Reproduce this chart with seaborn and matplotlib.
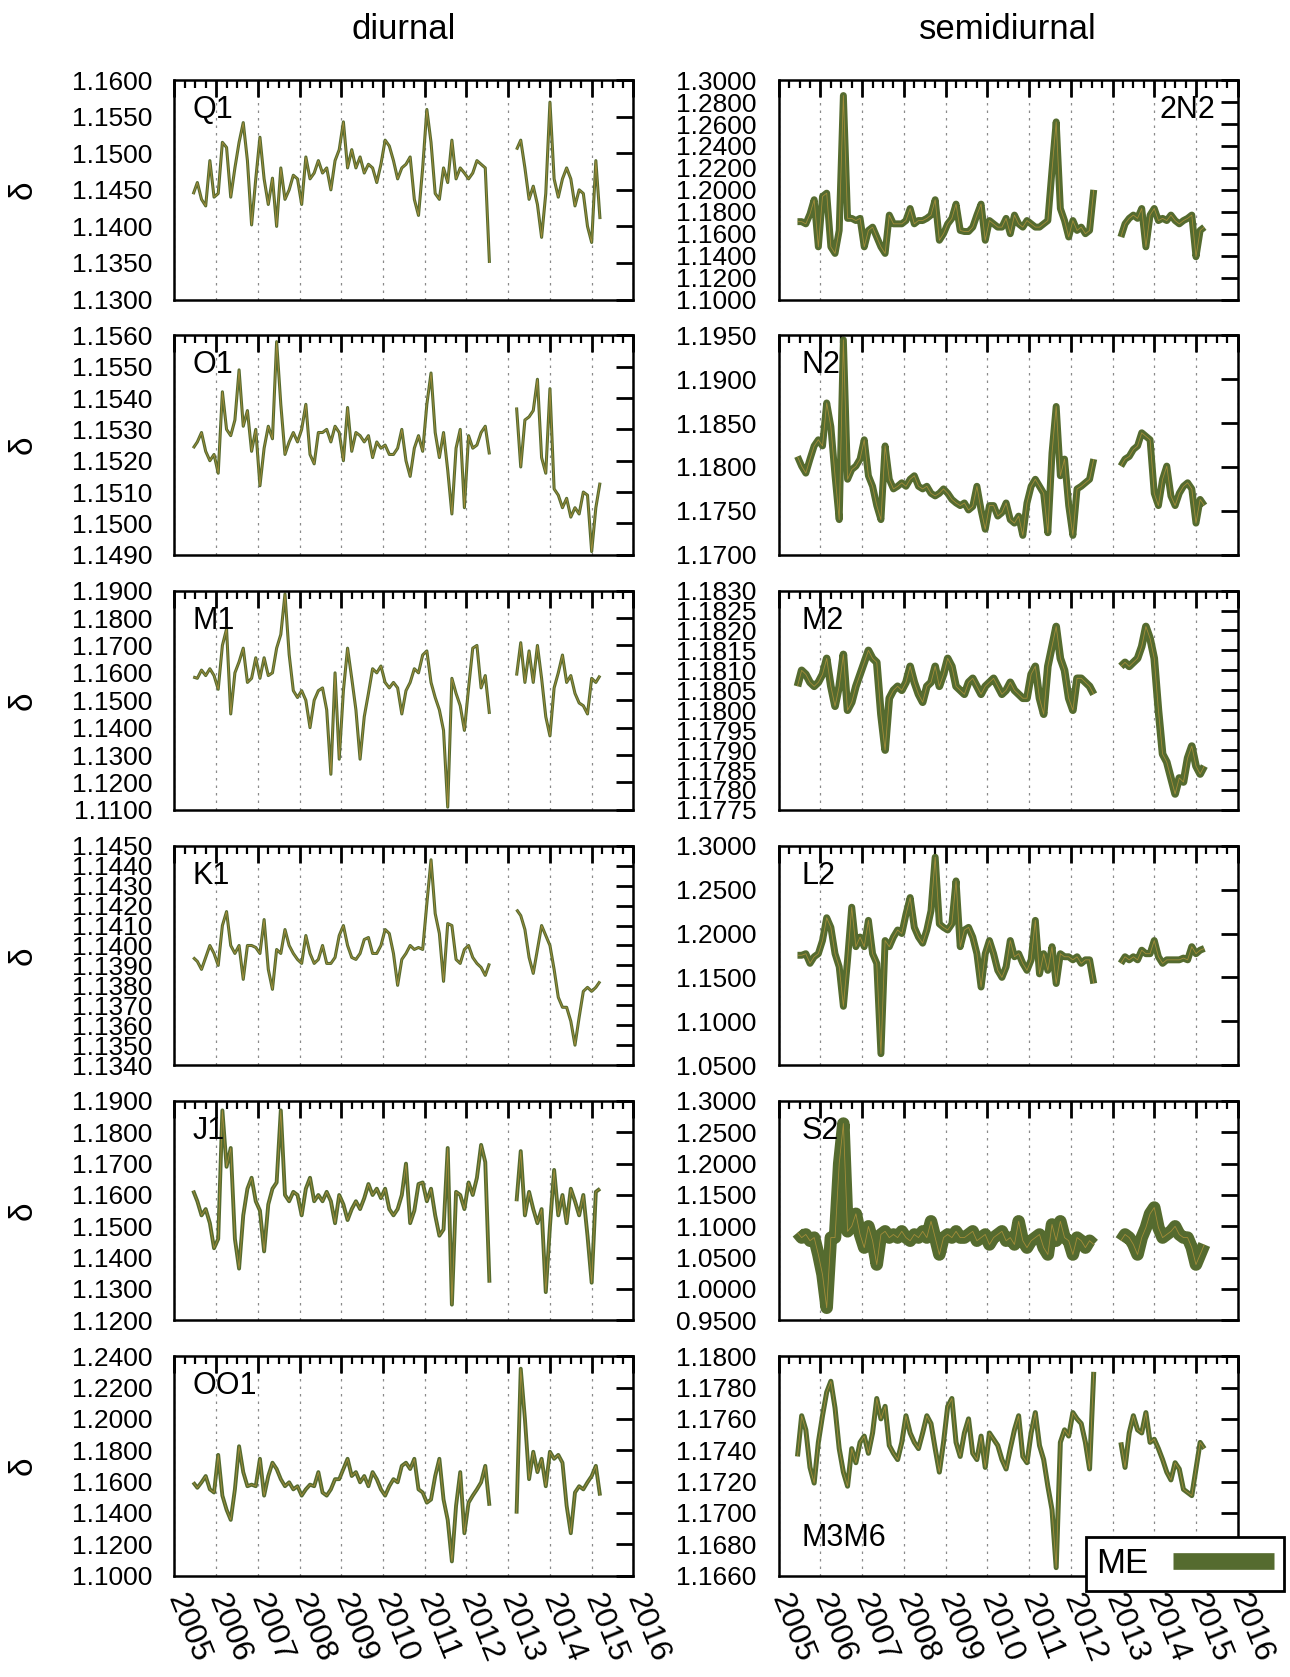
import numpy as np
import pandas as pd
import matplotlib
matplotlib.use("Agg")
import matplotlib.pyplot as plt
import seaborn as sns
from matplotlib.ticker import MultipleLocator, FixedLocator, FormatStrFormatter
from matplotlib.lines import Line2D

# ---------------------------------------------------------------- data
# sampling epochs (decimal years) of the two observation periods
T_A = np.round(np.arange(2005.45, 2012.551, 0.1), 2)
T_B = np.round(np.arange(2013.2, 2015.201, 0.1), 2)

# diurnal constituents -------------------------------------------------
q1_a = [1.1444, 1.1460, 1.1437, 1.1428, 1.1490, 1.1440,
        1.1445, 1.1515, 1.1508, 1.1440, 1.1480, 1.1515, 1.1542, 1.1490, 1.1402, 1.1465,
        1.1522, 1.1465, 1.1430, 1.1466, 1.1400, 1.1480, 1.1437, 1.1450, 1.1470, 1.1465,
        1.1430, 1.1495, 1.1465, 1.1473, 1.1490, 1.1473, 1.1480, 1.1450, 1.1490, 1.1505,
        1.1543, 1.1480, 1.1505, 1.1480, 1.1495, 1.1473, 1.1485, 1.1480, 1.1460, 1.1485,
        1.1518, 1.1510, 1.1490, 1.1465, 1.1480, 1.1485, 1.1495, 1.1437, 1.1415, 1.1480,
        1.1560, 1.1515, 1.1445, 1.1437, 1.1480, 1.1460, 1.1518, 1.1465, 1.1480, 1.1473,
        1.1465, 1.1473, 1.1490, 1.1485, 1.1480, 1.1350]
q1_b = [1.1505, 1.1518, 1.1480, 1.1437, 1.1455, 1.1430, 1.1385, 1.1445, 1.1570, 1.1465,
        1.1440, 1.1465, 1.1480, 1.1465, 1.1428, 1.1450, 1.1445, 1.1400, 1.1378, 1.1490, 1.1410]

o1_a = [1.1524, 1.1526, 1.1529, 1.1523, 1.1520, 1.1522,
        1.1516, 1.1542, 1.1530, 1.1528, 1.1533, 1.1549, 1.1531, 1.1536, 1.1523, 1.1530,
        1.1512, 1.1524, 1.1531, 1.1527, 1.1558, 1.1538, 1.1522, 1.1526, 1.1529, 1.1526,
        1.1530, 1.1538, 1.1522, 1.1519, 1.1529, 1.1529, 1.1530, 1.1526, 1.1531, 1.1529,
        1.1520, 1.1537, 1.1523, 1.1529, 1.1528, 1.1526, 1.1528, 1.1521, 1.1526, 1.1524,
        1.1525, 1.1522, 1.1522, 1.1524, 1.1530, 1.1520, 1.1515, 1.1524, 1.1528, 1.1523,
        1.1538, 1.1548, 1.1529, 1.1521, 1.1529, 1.1517, 1.1503, 1.1524, 1.1530, 1.1505,
        1.1528, 1.1524, 1.1525, 1.1529, 1.1531, 1.1522]
o1_b = [1.1537, 1.1518, 1.1533, 1.1534, 1.1536, 1.1546, 1.1521, 1.1516, 1.1543, 1.1511,
        1.1509, 1.1505, 1.1508, 1.1502, 1.1505, 1.1503, 1.1510, 1.1509, 1.1491, 1.1505, 1.1513]

m1_a = [1.1585, 1.1580, 1.1610, 1.1590, 1.1615, 1.1590,
        1.1540, 1.1700, 1.1760, 1.1450, 1.1600, 1.1640, 1.1690, 1.1565, 1.1580, 1.1655,
        1.1580, 1.1655, 1.1590, 1.1600, 1.1690, 1.1740, 1.1888, 1.1667, 1.1535, 1.1510,
        1.1535, 1.1500, 1.1400, 1.1500, 1.1535, 1.1545, 1.1465, 1.1230, 1.1600, 1.1285,
        1.1535, 1.1690, 1.1580, 1.1465, 1.1285, 1.1440, 1.1525, 1.1615, 1.1600, 1.1625,
        1.1565, 1.1545, 1.1565, 1.1545, 1.1450, 1.1535, 1.1565, 1.1615, 1.1600, 1.1665,
        1.1680, 1.1565, 1.1510, 1.1465, 1.1390, 1.1110, 1.1580, 1.1525, 1.1480, 1.1390,
        1.1545, 1.1690, 1.1700, 1.1545, 1.1590, 1.1450]
m1_b = [1.1590, 1.1710, 1.1565, 1.1680, 1.1565, 1.1700, 1.1580, 1.1440, 1.1370, 1.1545,
        1.1600, 1.1665, 1.1565, 1.1590, 1.1525, 1.1490, 1.1480, 1.1450, 1.1580, 1.1565, 1.1590]

k1_a = [1.1394, 1.1392, 1.1388, 1.1394, 1.1400, 1.1396,
        1.1390, 1.1410, 1.1417, 1.1400, 1.1396, 1.1400, 1.1383, 1.1400, 1.1400, 1.1399,
        1.1396, 1.1413, 1.1388, 1.1378, 1.1398, 1.1396, 1.1408, 1.1400, 1.1396, 1.1393,
        1.1391, 1.1405, 1.1396, 1.1391, 1.1393, 1.1400, 1.1391, 1.1391, 1.1394, 1.1405,
        1.1410, 1.1400, 1.1394, 1.1393, 1.1396, 1.1403, 1.1404, 1.1396, 1.1396, 1.1400,
        1.1408, 1.1406, 1.1396, 1.1380, 1.1393, 1.1396, 1.1400, 1.1398, 1.1399, 1.1398,
        1.1421, 1.1443, 1.1416, 1.1406, 1.1382, 1.1411, 1.1410, 1.1393, 1.1391, 1.1398,
        1.1400, 1.1394, 1.1391, 1.1389, 1.1385, 1.1391]
k1_b = [1.1418, 1.1415, 1.1408, 1.1394, 1.1386, 1.1398, 1.1410, 1.1405, 1.1400, 1.1388,
        1.1374, 1.1369, 1.1369, 1.1362, 1.1350, 1.1364, 1.1377, 1.1379, 1.1377, 1.1379, 1.1382]

j1_a = [1.1614, 1.1580, 1.1535, 1.1555, 1.1510, 1.1430,
        1.1460, 1.1870, 1.1690, 1.1750, 1.1460, 1.1365, 1.1535, 1.1620, 1.1655, 1.1580,
        1.1550, 1.1420, 1.1570, 1.1620, 1.1640, 1.1870, 1.1600, 1.1580, 1.1610, 1.1600,
        1.1535, 1.1620, 1.1655, 1.1580, 1.1600, 1.1580, 1.1610, 1.1580, 1.1510, 1.1600,
        1.1570, 1.1520, 1.1555, 1.1580, 1.1555, 1.1590, 1.1635, 1.1600, 1.1620, 1.1590,
        1.1620, 1.1555, 1.1535, 1.1555, 1.1600, 1.1700, 1.1510, 1.1550, 1.1635, 1.1640,
        1.1580, 1.1620, 1.1535, 1.1470, 1.1490, 1.1750, 1.1250, 1.1610, 1.1600, 1.1555,
        1.1640, 1.1600, 1.1655, 1.1760, 1.1705, 1.1320]
j1_b = [1.1580, 1.1740, 1.1535, 1.1610, 1.1555, 1.1510, 1.1555, 1.1290, 1.1500, 1.1680,
        1.1535, 1.1600, 1.1510, 1.1620, 1.1580, 1.1535, 1.1600, 1.1470, 1.1320, 1.1610, 1.1620]

oo1_a = [1.1595, 1.1560, 1.1595, 1.1635, 1.1550, 1.1530,
         1.1770, 1.1510, 1.1420, 1.1355, 1.1550, 1.1825, 1.1660, 1.1570, 1.1580, 1.1570,
         1.1745, 1.1510, 1.1635, 1.1720, 1.1680, 1.1615, 1.1570, 1.1595, 1.1550, 1.1570,
         1.1510, 1.1550, 1.1580, 1.1570, 1.1660, 1.1530, 1.1510, 1.1550, 1.1615, 1.1615,
         1.1680, 1.1745, 1.1635, 1.1660, 1.1595, 1.1635, 1.1570, 1.1660, 1.1615, 1.1550,
         1.1510, 1.1570, 1.1615, 1.1595, 1.1700, 1.1720, 1.1680, 1.1745, 1.1550, 1.1530,
         1.1465, 1.1485, 1.1635, 1.1745, 1.1485, 1.1355, 1.1090, 1.1445, 1.1660, 1.1270,
         1.1465, 1.1510, 1.1550, 1.1595, 1.1700, 1.1445]
oo1_b = [1.1395, 1.2320, 1.2000, 1.1615, 1.1790, 1.1660, 1.1745, 1.1570, 1.1790, 1.1745,
         1.1770, 1.1720, 1.1445, 1.1270, 1.1530, 1.1570, 1.1550, 1.1595, 1.1635, 1.1700, 1.1510]

# semidiurnal constituents ---------------------------------------------
n2x2_a = [1.171, 1.171, 1.169, 1.178, 1.191, 1.148,
          1.194, 1.197, 1.148, 1.142, 1.163, 1.286, 1.174, 1.174, 1.172, 1.174,
          1.148, 1.163, 1.166, 1.157, 1.148, 1.142, 1.177, 1.169, 1.169, 1.169,
          1.172, 1.183, 1.169, 1.172, 1.172, 1.174, 1.177, 1.191, 1.154, 1.160,
          1.169, 1.174, 1.187, 1.163, 1.162, 1.162, 1.166, 1.177, 1.187, 1.154,
          1.172, 1.169, 1.166, 1.166, 1.174, 1.160, 1.177, 1.169, 1.166, 1.172,
          1.169, 1.166, 1.166, 1.169, 1.172, 1.218, 1.262, 1.183, 1.172, 1.157,
          1.172, 1.163, 1.166, 1.160, 1.163, 1.200]
n2x2_b = [1.157, 1.169, 1.174, 1.177, 1.174, 1.183, 1.148, 1.177, 1.183, 1.172,
          1.174, 1.172, 1.177, 1.172, 1.169, 1.172, 1.174, 1.177, 1.139, 1.163, 1.166]

n2_a = [1.1812, 1.1801, 1.1793, 1.1809, 1.1824, 1.1831,
        1.1824, 1.1873, 1.1846, 1.1790, 1.1740, 1.1945, 1.1786, 1.1797, 1.1801, 1.1809,
        1.1831, 1.1790, 1.1778, 1.1756, 1.1740, 1.1824, 1.1786, 1.1775, 1.1778, 1.1782,
        1.1778, 1.1786, 1.1790, 1.1778, 1.1775, 1.1778, 1.1770, 1.1767, 1.1770, 1.1775,
        1.1770, 1.1763, 1.1759, 1.1756, 1.1759, 1.1751, 1.1755, 1.1778, 1.1751, 1.1729,
        1.1756, 1.1756, 1.1744, 1.1748, 1.1759, 1.1740, 1.1736, 1.1744, 1.1722, 1.1759,
        1.1778, 1.1786, 1.1778, 1.1770, 1.1725, 1.1816, 1.1869, 1.1790, 1.1809, 1.1756,
        1.1722, 1.1775, 1.1778, 1.1782, 1.1786, 1.1809]
n2_b = [1.1801, 1.1809, 1.1812, 1.1820, 1.1824, 1.1839, 1.1835, 1.1831, 1.1770, 1.1756,
        1.1786, 1.1801, 1.1767, 1.1756, 1.1770, 1.1778, 1.1782, 1.1775, 1.1736, 1.1763, 1.1756]

m2_a = [1.1806, 1.1810, 1.1809, 1.1807, 1.1806, 1.1807,
        1.1809, 1.1813, 1.1806, 1.1801, 1.1806, 1.1814, 1.1800, 1.1802, 1.1806, 1.1809,
        1.1812, 1.1815, 1.1813, 1.1812, 1.1799, 1.1790, 1.1803, 1.1805, 1.1806, 1.1805,
        1.1807, 1.1811, 1.1807, 1.1804, 1.1802, 1.1806, 1.1807, 1.1811, 1.1806, 1.1809,
        1.1813, 1.1811, 1.1806, 1.1805, 1.1804, 1.1807, 1.1808, 1.1806, 1.1804, 1.1806,
        1.1807, 1.1808, 1.1806, 1.1804, 1.1805, 1.1807, 1.1805, 1.1804, 1.1803, 1.1803,
        1.1809, 1.1811, 1.1803, 1.1799, 1.1811, 1.1816, 1.1821, 1.1813, 1.1810, 1.1803,
        1.1800, 1.1808, 1.1808, 1.1807, 1.1806, 1.1804]
m2_b = [1.1811, 1.1812, 1.1811, 1.1812, 1.1813, 1.1816, 1.1821, 1.1818, 1.1813, 1.1800,
        1.1789, 1.1787, 1.1783, 1.1779, 1.1783, 1.1782, 1.1788, 1.1791, 1.1786, 1.1784, 1.1786]

l2_a = [1.1752, 1.1752, 1.1770, 1.1660, 1.1735, 1.1770,
        1.1920, 1.2180, 1.2070, 1.1770, 1.1620, 1.1170, 1.1700, 1.2300, 1.1850, 1.1960,
        1.1850, 1.2150, 1.1770, 1.1660, 1.0630, 1.1920, 1.1850, 1.1960, 1.2040, 1.2000,
        1.2220, 1.2410, 1.2070, 1.1960, 1.1890, 1.2040, 1.2260, 1.2870, 1.2110, 1.2070,
        1.2040, 1.2110, 1.2600, 1.1850, 1.2040, 1.2070, 1.1960, 1.1770, 1.1390, 1.1770,
        1.1920, 1.1770, 1.1580, 1.1500, 1.1620, 1.1920, 1.1735, 1.1770, 1.1660, 1.1580,
        1.1700, 1.2150, 1.1540, 1.1770, 1.1580, 1.1850, 1.1430, 1.1770, 1.1735, 1.1735,
        1.1700, 1.1735, 1.1660, 1.1700, 1.1700, 1.1430]
l2_b = [1.1660, 1.1735, 1.1700, 1.1735, 1.1700, 1.1810, 1.1770, 1.1770, 1.1920, 1.1735,
        1.1660, 1.1700, 1.1700, 1.1700, 1.1700, 1.1720, 1.1700, 1.1850, 1.1770, 1.1810, 1.1830]

s2_a = [1.090, 1.082, 1.087, 1.077, 1.082, 1.055,
        1.023, 0.970, 1.082, 1.082, 1.200, 1.264, 1.092, 1.100, 1.120, 1.087,
        1.066, 1.100, 1.077, 1.039, 1.087, 1.092, 1.082, 1.087, 1.082, 1.092,
        1.082, 1.077, 1.087, 1.082, 1.092, 1.082, 1.108, 1.082, 1.055, 1.082,
        1.087, 1.082, 1.092, 1.082, 1.082, 1.087, 1.092, 1.077, 1.082, 1.087,
        1.071, 1.082, 1.087, 1.092, 1.077, 1.082, 1.071, 1.108, 1.077, 1.066,
        1.077, 1.082, 1.087, 1.066, 1.055, 1.103, 1.077, 1.108, 1.082, 1.077,
        1.055, 1.082, 1.077, 1.066, 1.077, 1.071]
s2_b = [1.077, 1.087, 1.082, 1.071, 1.055, 1.082, 1.098, 1.120, 1.130, 1.098,
        1.082, 1.087, 1.092, 1.100, 1.087, 1.082, 1.082, 1.066, 1.039, 1.055, 1.071]

m3m6_a = [1.1736, 1.1762, 1.1753, 1.1729, 1.1719, 1.1745,
          1.1762, 1.1777, 1.1784, 1.1767, 1.1741, 1.1726, 1.1717, 1.1741, 1.1732, 1.1745,
          1.1749, 1.1738, 1.1751, 1.1773, 1.1760, 1.1768, 1.1743, 1.1738, 1.1734, 1.1745,
          1.1762, 1.1751, 1.1745, 1.1741, 1.1751, 1.1762, 1.1757, 1.1741, 1.1726, 1.1745,
          1.1768, 1.1773, 1.1745, 1.1736, 1.1751, 1.1760, 1.1738, 1.1734, 1.1749, 1.1729,
          1.1751, 1.1747, 1.1743, 1.1734, 1.1728, 1.1741, 1.1753, 1.1762, 1.1736, 1.1732,
          1.1751, 1.1764, 1.1743, 1.1734, 1.1717, 1.1702, 1.1665, 1.1745, 1.1753, 1.1749,
          1.1764, 1.1760, 1.1757, 1.1745, 1.1728, 1.1790]
m3m6_b = [1.1745, 1.1729, 1.1751, 1.1762, 1.1753, 1.1751, 1.1764, 1.1745, 1.1747, 1.1741,
          1.1734, 1.1726, 1.1721, 1.1732, 1.1728, 1.1715, 1.1713, 1.1711, 1.1728, 1.1745, 1.1741]

# panel layout: name, series, y-range, y-step, column, row
PANELS = [
    ("Q1",   q1_a,   q1_b,   1.1300, 1.1600, 0.0050, 0, 0),
    ("O1",   o1_a,   o1_b,   1.1490, 1.1560, 0.0010, 0, 1),
    ("M1",   m1_a,   m1_b,   1.1100, 1.1900, 0.0100, 0, 2),
    ("K1",   k1_a,   k1_b,   1.1340, 1.1450, 0.0010, 0, 3),
    ("J1",   j1_a,   j1_b,   1.1200, 1.1900, 0.0100, 0, 4),
    ("OO1",  oo1_a,  oo1_b,  1.1000, 1.2400, 0.0200, 0, 5),
    ("2N2",  n2x2_a, n2x2_b, 1.1000, 1.3000, 0.0200, 1, 0),
    ("N2",   n2_a,   n2_b,   1.1700, 1.1950, 0.0050, 1, 1),
    ("M2",   m2_a,   m2_b,   1.1775, 1.1830, 0.0005, 1, 2),
    ("L2",   l2_a,   l2_b,   1.0500, 1.3000, 0.0500, 1, 3),
    ("S2",   s2_a,   s2_b,   0.9500, 1.3000, 0.0500, 1, 4),
    ("M3M6", m3m6_a, m3m6_b, 1.1660, 1.1800, 0.0020, 1, 5),
]
# drawn band width (points) for each constituent
BAND_LW = {"Q1": 2.2, "O1": 2.2, "M1": 2.2, "K1": 2.2, "J1": 2.8, "OO1": 2.8,
           "2N2": 5.0, "N2": 5.0, "M2": 5.5, "L2": 5.0, "S2": 9.0, "M3M6": 3.6}

frames = []
for name, a, b, *_ in PANELS:
    assert len(a) == len(T_A) and len(b) == len(T_B), name
    frames.append(pd.DataFrame({"constituent": name, "year": T_A, "delta": a, "segment": 0}))
    frames.append(pd.DataFrame({"constituent": name, "year": T_B, "delta": b, "segment": 1}))
df = pd.concat(frames, ignore_index=True)

# ---------------------------------------------------------------- style
sns.set_theme(style="white")
plt.rcParams["font.family"] = ["Liberation Sans", "DejaVu Sans"]
plt.rcParams.update({
    "axes.linewidth": 1.8,
    "axes.edgecolor": "black",
    "text.color": "black",
    "axes.labelcolor": "black",
    "xtick.color": "black",
    "ytick.color": "black",
    "lines.solid_capstyle": "butt",
    "lines.solid_joinstyle": "round",
})

GREEN = "#556b2f"
TAN = "#d9a441"

W, H = 1290, 1677
fig = plt.figure(figsize=(W / 100, H / 100), dpi=100)

COL_X = [174.4, 778.7]
AX_W = 459.0
ROW_TOP0, ROW_PITCH, AX_H = 80.2, 255.2, 219.3

years = np.arange(2005, 2017)
for name, a, b, ymin, ymax, ystep, col, row in PANELS:
    top = ROW_TOP0 + row * ROW_PITCH
    ax = fig.add_axes([COL_X[col] / W, 1 - (top + AX_H) / H, AX_W / W, AX_H / H])
    sub = df[df["constituent"] == name]
    sns.lineplot(data=sub, x="year", y="delta", units="segment", estimator=None,
                 sort=False, color=GREEN, linewidth=BAND_LW[name], ax=ax, legend=False,
                 zorder=3)
    sns.lineplot(data=sub, x="year", y="delta", units="segment", estimator=None,
                 sort=False, color=TAN, linewidth=0.6, alpha=0.6, ax=ax, legend=False,
                 zorder=4)

    ax.set_xlim(2005, 2016)
    ax.set_ylim(ymin, ymax)
    nt = int(round((ymax - ymin) / ystep))
    ax.yaxis.set_major_locator(FixedLocator(ymin + ystep * np.arange(nt + 1)))
    ax.yaxis.set_major_formatter(FormatStrFormatter("%.4f"))
    ax.xaxis.set_major_locator(FixedLocator(years))
    ax.xaxis.set_minor_locator(MultipleLocator(0.25))

    ax.tick_params(which="both", direction="in", top=True, right=True,
                   color="black", width=2.0)
    ax.tick_params(which="major", length=12.5)
    ax.tick_params(which="minor", length=6, width=1.6)
    ax.tick_params(axis="y", labelsize=19, pad=16, labelcolor="black")
    ax.grid(axis="x", which="major", color="#8a8a8a", linestyle=(0, (2, 4)), linewidth=0.9)
    ax.set_axisbelow(True)
    for s in ax.spines.values():
        s.set_linewidth(1.8)
        s.set_color("black")
        s.set_zorder(5)

    ax.set_xlabel("")
    if col == 0:
        ax.set_ylabel("δ", fontsize=24, rotation=90, color="black")
        ax.yaxis.set_label_coords(-0.295, 0.5)
    else:
        ax.set_ylabel("")

    if row == 5:
        ax.set_xticks(years, labels=[str(y) for y in years], rotation=-68,
                      rotation_mode="anchor", ha="left", va="center", fontsize=23,
                      color="black")
        ax.tick_params(axis="x", pad=14)
    else:
        ax.tick_params(axis="x", labelbottom=False)

    if row == 0:
        ax.set_title("diurnal" if col == 0 else "semidiurnal", fontsize=25, pad=30,
                     color="black")

    if name == "2N2":
        ax.text(0.952, 0.863, name, transform=ax.transAxes, fontsize=22,
                ha="right", va="center", zorder=6, color="black")
    elif name == "M3M6":
        ax.text(0.05, 0.17, name, transform=ax.transAxes, fontsize=22,
                ha="left", va="center", zorder=6, color="black")
    else:
        ax.text(0.04 if col == 0 else 0.05, 0.863, name, transform=ax.transAxes,
                fontsize=22, ha="left", va="center", zorder=6, color="black")

leg = fig.legend(handles=[Line2D([], [], color=GREEN, linewidth=12, solid_capstyle="butt")],
                 labels=["ME"], loc="upper left", bbox_to_anchor=(1086 / W, 1 - 1537 / H),
                 markerfirst=False, frameon=True, fancybox=False, framealpha=1,
                 edgecolor="black", fontsize=25, handlelength=2.9, borderpad=0.3,
                 borderaxespad=0, handletextpad=0.7)
leg.get_frame().set_linewidth(2.0)

fig.savefig("out.png", dpi=100, facecolor="white")
